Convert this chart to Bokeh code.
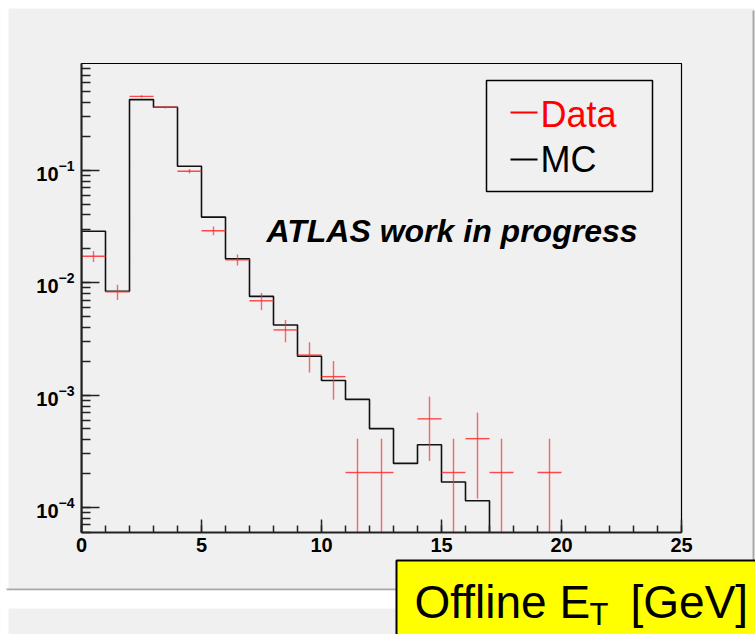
import numpy as np
from bokeh.plotting import figure
from bokeh.models import Range1d, SingleIntervalTicker, LogTicker
from bokeh.core.properties import value
from bokeh.embed import file_html
from bokeh.resources import INLINE

# ---------------- data ----------------
mc_edges = list(range(0, 18))            # MC bins 0-1 ... 16-17 GeV
mc_values = [0.0287, 0.0084, 0.425, 0.363, 0.1085, 0.0383, 0.0163, 0.00755,
             0.0042, 0.00222, 0.00135, 0.000916, 0.000503, 0.000247,
             0.000362, 0.000169, 0.000115]

data_x = [0.5, 1.5, 2.5, 3.5, 4.5, 5.5, 6.5, 7.5, 8.5, 9.5, 10.5, 11.5,
          12.5, 14.5, 15.5, 16.5, 17.5, 19.5]
data_y = [0.0172, 0.0083, 0.454, 0.363, 0.098, 0.029, 0.016, 0.0069,
          0.0038, 0.00227, 0.00146, 0.000205, 0.000205, 0.000615,
          0.000205, 0.00041, 0.000205, 0.000205]
data_err = [0.0019, 0.0013, 0.0095, 0.0085, 0.0045, 0.0026, 0.0018, 0.0012,
            0.00085, 0.00068, 0.00055, 0.000205, 0.000205, 0.000355,
            0.000205, 0.00029, 0.000205, 0.000205]
bin_width = 1.0

legend_labels = ["Data", "MC"]
x_title = ["Offline E", "T", "[GeV]"]
atlas_text = "ATLAS work in progress"

x_range = (0, 25)
y_range = (6.0e-5, 0.89)

# ---------------- figure ----------------
W, H = 755, 634
FL, FR, FT, FB = 81, 681, 63, 532      # frame edges in canvas pixels

p = figure(width=W, height=H, output_backend="svg", toolbar_location=None,
           x_range=Range1d(*x_range), y_range=Range1d(*y_range),
           y_axis_type="log",
           min_border_left=FL, min_border_right=W - FR,
           min_border_top=FT, min_border_bottom=H - FB)
p.border_fill_color = "#f0f0f0"
p.background_fill_color = "#f0f0f0"
p.outline_line_color = "black"
p.outline_line_width = 1.2
p.xgrid.visible = False
p.ygrid.visible = False

FONT = "Liberation Sans"

for ax in (p.xaxis, p.yaxis):
    ax.major_tick_out = 0
    ax.minor_tick_out = 0
    ax.axis_line_width = 2
    ax.axis_line_color = "#222222"
    ax.major_tick_line_color = "#222222"
    ax.minor_tick_line_color = "#222222"
    ax.major_tick_line_width = 1.5
    ax.minor_tick_line_width = 1.5
    ax.major_label_text_font = FONT
    ax.major_label_text_font_style = "bold"
    ax.major_label_text_font_size = "20px"
    ax.major_label_text_color = "black"

p.xaxis.ticker = SingleIntervalTicker(interval=5, num_minor_ticks=5)
p.xaxis.major_tick_in = 13
p.xaxis.minor_tick_in = 7
p.xaxis.major_label_standoff = 5

p.yaxis.ticker = LogTicker(num_minor_ticks=10)
p.yaxis.major_tick_in = 18
p.yaxis.minor_tick_in = 9
p.yaxis.major_label_standoff = 7

# canvas pixel -> data coordinate helpers (for page decorations outside the frame)
LY0, LY1 = np.log10(y_range[0]), np.log10(y_range[1])
def xd(xc):
    return x_range[0] + (xc - FL) * (x_range[1] - x_range[0]) / (FR - FL)
def yd(yc):
    return 10 ** (LY1 - (yc - FT) * (LY1 - LY0) / (FB - FT))

def rect(x0, x1, y0, y1, color, line_color=None, line_width=1, level="annotation"):
    p.quad(left=[xd(x0)], right=[xd(x1)], top=[yd(y0)], bottom=[yd(y1)],
           fill_color=color, line_color=line_color, line_width=line_width,
           level=level)

def txt(xc, baseline, s, size, color="black", style="normal", align="left"):
    # the text anchor lands about 0.347 em above the glyph baseline
    yc = baseline - 0.347 * size
    p.text(x=[xd(xc)], y=[yd(yc)], text=[s], text_font=value(FONT),
           text_font_size=value(f"{size}px"), text_font_style=value(style),
           text_color=color, text_align=align, text_baseline="alphabetic",
           level="annotation")

# ---------------- page panels (white margins / shadows) ----------------
rect(0, W, 0, 8, "white")
rect(0, 8, 0, H, "white")
rect(754, W, 0, H, "white")
rect(752, 754, 10, 590, "#a9a9a9")
rect(6, 754, 588, 590, "#a9a9a9")
rect(0, W, 590, 608, "white")

# ---------------- histograms ----------------
floor = 1e-7
mc_x = np.repeat(np.array(mc_edges, dtype=float), 2)
mc_y = np.concatenate([[floor], np.repeat(np.array(mc_values), 2), [floor]])
p.line(mc_x, mc_y, line_color="#111111", line_width=1.6)

dx = np.array(data_x)
dy = np.array(data_y)
de = np.array(data_err)
lo = np.where(dy - de > 0, dy - de, floor)
hi = dy + de
red = "#ff2a2a"
p.segment(dx - bin_width / 2, dy, dx + bin_width / 2, dy, line_color=red,
          line_width=1.4, line_alpha=0.85)
p.segment(dx, lo, dx, hi, line_color=red, line_width=1.4, line_alpha=0.7)

# ---------------- texts ----------------
txt(266, 241.5, atlas_text, 32, style="bold italic")

# legend
rect(486, 652, 80, 191, "#f0f0f0", line_color="black", line_width=1.5)
rect(510, 537, 111, 113, "red")
rect(510, 537, 158, 160, "black")
txt(540, 126.5, legend_labels[0], 36, color="red")
txt(540, 171.5, legend_labels[1], 36)

# yellow axis-title box
rect(396, 770, 560, 660, "yellow", line_color="black", line_width=2)
txt(414, 617, x_title[0], 46)
txt(589, 625, x_title[1], 31)
txt(630, 617, x_title[2], 46)

open("out.html", "w").write(file_html(p, INLINE))
